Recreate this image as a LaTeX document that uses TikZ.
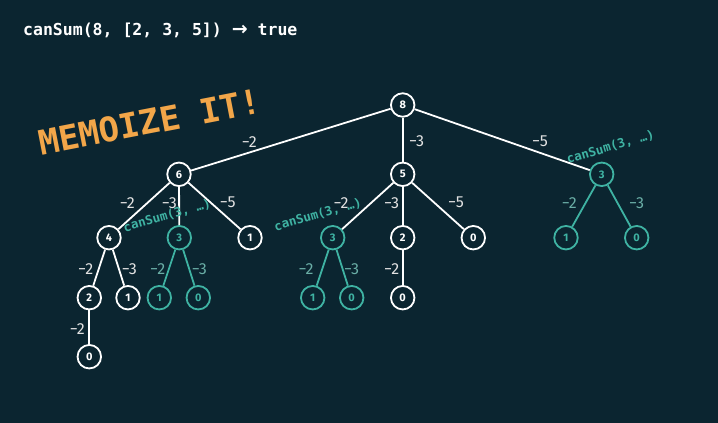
\documentclass[tikz,border=0pt]{standalone}
\usepackage{fontspec}
\setmainfont{Fira Sans}
\newfontfamily\monof{DejaVu Sans Mono}
\newfontfamily\arrowf{DejaVu Sans}
\definecolor{bgc}{HTML}{0B2530}
\definecolor{tealc}{HTML}{3FB3A3}
\definecolor{tlblc}{HTML}{6AAEA6}
\definecolor{orc}{HTML}{F2A649}
\definecolor{lblc}{HTML}{E2E2E2}
\begin{document}
\begin{tikzpicture}[x=1pt,y=-1pt,
  nd/.style={circle,draw=white,line width=1.8pt,fill=bgc,minimum size=23.5pt,inner sep=0pt,text=white,font=\fontsize{11}{12}\selectfont\bfseries},
  tn/.style={nd,draw=tealc,text=tealc},
  ed/.style={draw=white,line width=1.8pt},
  te/.style={draw=tealc,line width=1.8pt},
  lbl/.style={text=lblc,font=\fontsize{16}{18}\selectfont,inner sep=0pt},
  tlbl/.style={lbl,text=tlblc},
  memo/.style={text=tealc,font=\monof\bfseries\fontsize{12.5}{14}\selectfont,rotate=16,anchor=base,inner sep=0pt}]
\fill[bgc] (0,0) rectangle (718,423);
\useasboundingbox (0,0) rectangle (718,423);
% title
\node[anchor=base west,inner sep=0pt,text=white,font=\monof\bfseries\fontsize{16.5}{18}\selectfont] (title) at (23,35) {canSum(8, [2, 3, 5]) {\arrowf\bfseries\fontsize{19}{18}\selectfont →} true};
\node[anchor=base,inner sep=0pt,text=orc,rotate=11,font=\monof\bfseries\fontsize{34}{38}\selectfont] (memoize) at (152,134) {MEMOIZE IT!};
% nodes
\node[nd] (n8) at (402.7,105) {8};
\node[nd] (n6) at (179,174.3) {6};
\node[nd] (n5) at (402.7,174.3) {5};
\node[tn] (r3) at (601.7,174.3) {3};
\node[nd] (n4) at (109,237.7) {4};
\node[tn] (a3) at (179.3,237.7) {3};
\node[nd] (a1) at (250,237.7) {1};
\node[tn] (b3) at (332.7,237.7) {3};
\node[nd] (b2) at (402.7,237.7) {2};
\node[nd] (b0) at (473.3,237.7) {0};
\node[tn] (r1) at (566,237.7) {1};
\node[tn] (r0) at (636.7,237.7) {0};
\node[nd] (c2) at (89.3,297.7) {2};
\node[nd] (c1) at (128,297.7) {1};
\node[tn] (d1) at (159.3,297.7) {1};
\node[tn] (d0) at (198.3,297.7) {0};
\node[tn] (e1) at (312.7,297.7) {1};
\node[tn] (e0) at (351.7,297.7) {0};
\node[nd] (f0) at (402.7,297.7) {0};
\node[nd] (g0) at (89.3,356.7) {0};
% edges
\draw[ed] (n8) -- (n6);
\draw[ed] (n8) -- (n5);
\draw[ed] (n8) -- (r3);
\draw[ed] (n6) -- (n4);
\draw[ed] (n6) -- (a3);
\draw[ed] (n6) -- (a1);
\draw[ed] (n5) -- (b3);
\draw[ed] (n5) -- (b2);
\draw[ed] (n5) -- (b0);
\draw[te] (r3) -- (r1);
\draw[te] (r3) -- (r0);
\draw[ed] (n4) -- (c2);
\draw[ed] (n4) -- (c1);
\draw[te] (a3) -- (d1);
\draw[te] (a3) -- (d0);
\draw[te] (b3) -- (e1);
\draw[te] (b3) -- (e0);
\draw[ed] (b2) -- (f0);
\draw[ed] (c2) -- (g0);
% edge labels
\node[lbl] (l86) at (249.3,141.7) {−2};
\node[lbl] (l85) at (416.7,140.7) {−3};
\node[lbl] (l83) at (540,141.7) {−5};
\node[lbl] (l64) at (127.3,202.7) {−2};
\node[lbl] (l63) at (169.3,202.7) {−3};
\node[lbl] (l61) at (227.7,202.7) {−5};
\node[lbl] (l53) at (341,202.7) {−2};
\node[lbl] (l52) at (391.7,202.7) {−3};
\node[lbl] (l50) at (456,202.7) {−5};
\node[tlbl] (lr1) at (569.3,203.3) {−2};
\node[tlbl] (lr0) at (636.7,203.3) {−3};
\node[lbl] (l42) at (85.7,269) {−2};
\node[lbl] (l41) at (129.3,269) {−3};
\node[tlbl] (la1) at (157.7,269) {−2};
\node[tlbl] (la0) at (199.3,269) {−3};
\node[tlbl] (lb1) at (306,269) {−2};
\node[tlbl] (lb0) at (351.7,269) {−3};
\node[lbl] (l20) at (391.7,269) {−2};
\node[lbl] (lc0) at (77.3,329.3) {−2};
% memo labels
\node[memo] (m1) at (168.3,219.6) {canSum(3, …)};
\node[memo] (m2) at (319,218.6) {canSum(3, …)};
\node[memo] (m3) at (611.6,150.9) {canSum(3, …)};
\end{tikzpicture}
\end{document}
